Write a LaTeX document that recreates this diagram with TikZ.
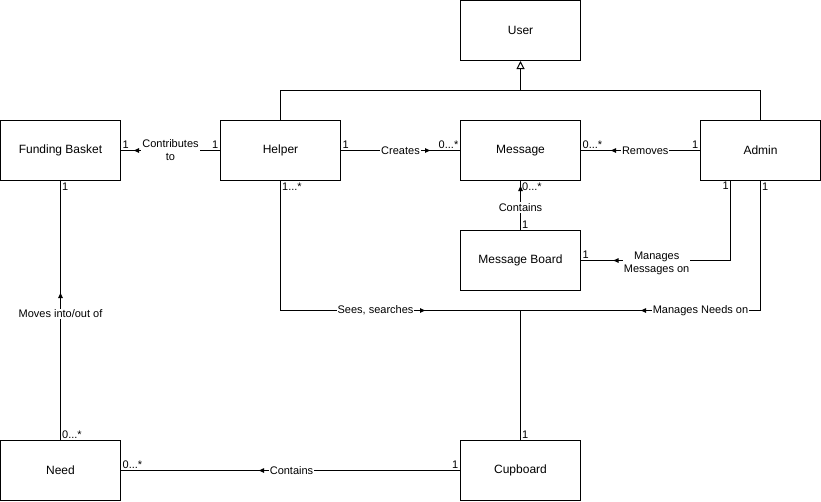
\documentclass[tikz,border=0pt]{standalone}
\usepackage{fontspec}
\setmainfont{Liberation Sans}
\usetikzlibrary{arrows.meta,decorations.markings}
\tikzset{
  box/.style={draw, line width=1pt, minimum width=120pt, minimum height=60pt,
    inner sep=0pt, font=\fontsize{12}{14}\selectfont},
  lbl/.style={fill=white, inner sep=1pt, font=\fontsize{11}{13}\selectfont, align=center},
  mult/.style={inner sep=1.5pt, font=\fontsize{11}{13}\selectfont},
  link/.style={line width=1pt},
  tipat/.style={postaction={decorate, decoration={markings,
    mark=at position #1 with {\arrow{Latex[length=6pt,width=5pt]}}}}},
}
\begin{document}
\begin{tikzpicture}[x=1pt,y=-1pt]
\useasboundingbox (-0.5,-0.5) rectangle (820.5,500.5);

% classes
\node[box] (user)    at (520,30)  {User};
\node[box] (fb)      at (60,150)  {Funding Basket};
\node[box] (helper)  at (280,150) {Helper};
\node[box] (message) at (520,150) {Message};
\node[box] (admin)   at (760,150) {Admin};
\node[box] (mb)      at (520,260) {Message Board};
\node[box] (need)    at (60,470)  {Need};
\node[box] (cup)     at (520,470) {Cupboard};

% junction points
\coordinate (inh) at (520,90);
\coordinate (j) at (520,310);
\coordinate (adminL) at (730,180);

% generalisation
\draw[link] (helper.north) |- (inh) -| (admin.north);
\draw[link, -{Triangle[open,length=8pt,width=8pt,fill=white]}] (inh) -- (user.south);

% associations
\draw[link, tipat=87pt] (helper.west) -- node[lbl]{Contributes\\to} (fb.east);
\node[mult, anchor=south west] at (fb.east) {1};
\node[mult, anchor=south east] at (helper.west) {1};

\draw[link, tipat=90pt] (helper.east) -- node[lbl]{Creates} (message.west);
\node[mult, anchor=south west] at (helper.east) {1};
\node[mult, anchor=south east] at (message.west) {0...*};

\draw[link, tipat=90pt] (admin.west) -- node[lbl, pos=0.46]{Removes} (message.east);
\node[mult, anchor=south west] at (message.east) {0...*};
\node[mult, anchor=south east] at (admin.west) {1};

\draw[link, tipat=45pt] (mb.north) -- node[lbl, pos=0.46]{Contains} (message.south);
\node[mult, anchor=north west] at (message.south) {0...*};
\node[mult, anchor=south west] at (mb.north) {1};

\draw[link, tipat=198pt] (adminL) |- node[lbl, pos=0.747, yshift=-3pt]{Manages\\Messages on} (mb.east);
\node[mult, anchor=north east] at (adminL) {1};
\node[mult, anchor=south west] at (mb.east) {1};

\draw[link, tipat=275pt] (helper.south) |- node[lbl, pos=0.698]{Sees, searches} (j) -- (cup.north);
\node[mult, anchor=north west] at (helper.south) {1...*};

\draw[link, tipat=250pt] (admin.south) |- node[lbl, pos=0.625]{Manages Needs on} (j) -- (cup.north);
\node[mult, anchor=north west] at (admin.south) {1};
\node[mult, anchor=south west] at (cup.north) {1};

\draw[link, tipat=148pt] (need.north) -- node[lbl, pos=0.488]{Moves into/out of} (fb.south);
\node[mult, anchor=north west] at (fb.south) {1};
\node[mult, anchor=south west] at (need.north) {0...*};

\draw[link, tipat=202pt] (cup.west) -- node[lbl, pos=0.497]{Contains} (need.east);
\node[mult, anchor=south west] at (need.east) {0...*};
\node[mult, anchor=south east] at (cup.west) {1};
\end{tikzpicture}
\end{document}
